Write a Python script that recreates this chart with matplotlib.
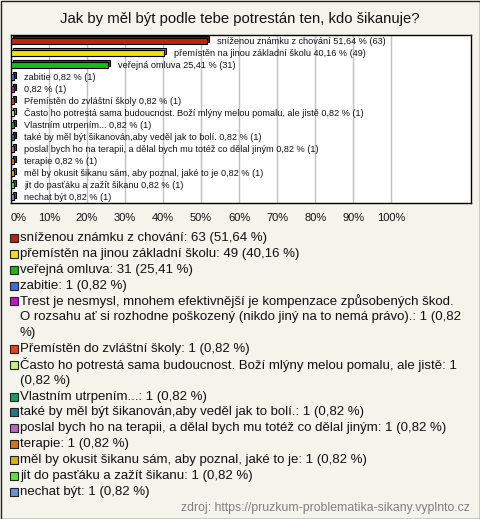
import matplotlib
matplotlib.use('Agg')
import numpy as np
import matplotlib.pyplot as plt
from matplotlib.patches import Rectangle
from matplotlib.colors import to_rgb

title = 'Jak by měl být podle tebe potrestán ten, kdo šikanuje?'
labels = [
    'sníženou známku z chování',
    'přemístěn na jinou základní školu',
    'veřejná omluva',
    'zabitie',
    'Trest je nesmysl, mnohem efektivnější je kompenzace způsobených škod. '
    'O rozsahu ať si rozhodne poškozený (nikdo jiný na to nemá právo).',
    'Přemístěn do zvláštní školy',
    'Často ho potrestá sama budoucnost. Boží mlýny melou pomalu, ale jistě',
    'Vlastním utrpením...',
    'také by měl být šikanován,aby veděl jak to bolí.',
    'poslal bych ho na terapii, a dělal bych mu totéž co dělal jiným',
    'terapie',
    'měl by okusit šikanu sám, aby poznal, jaké to je',
    'jít do pasťáku a zažít šikanu',
    'nechat být',
]
counts = [63, 49, 31] + [1] * 11
respondents = 122
colors = ['#c8200c', '#f2e200', '#12c012', '#3c6ee8', '#c412d2', '#e84412',
          '#c4f086', '#12a05e', '#1e7890', '#c060c8', '#e07012', '#e2b000',
          '#52e832', '#6494e4']
source = 'zdroj: https://pruzkum-problematika-sikany.vyplnto.cz'

pct = np.array(counts) / respondents * 100
W, H = 480, 519
bg = '#f4f3ec'


def fmt(v):
    return f'{v:.2f}'.replace('.', ',')


fig = plt.figure(figsize=(W / 100, H / 100), dpi=100, facecolor=bg)
fig.patches.append(Rectangle((0.5 / W, 0.5 / H), 1 - 1 / W, 1 - 1 / H, transform=fig.transFigure,
                             fill=False, edgecolor='#202020', lw=1))

fig.text(0.5, 1 - 19 / H, title, ha='center', va='center', fontsize=10.7,
         family='Liberation Sans', color='#111111')

# bar chart
ax = fig.add_axes([11 / W, 1 - 203 / H, 460 / W, 168 / H])
ax.set_facecolor('white')
y = np.arange(len(labels))
for i in range(len(labels)):
    dark = tuple(c * 0.6 for c in to_rgb(colors[i]))
    ax.barh(y[i] - 0.2, pct[i], left=0.5, height=0.5, color=dark, edgecolor='black', lw=0.8, zorder=2)
    ax.barh(y[i], pct[i], height=0.5, color=colors[i], edgecolor='black', lw=0.8, zorder=3)
    name = labels[i] if len(labels[i]) < 100 else ''
    txt = f'{name} {fmt(pct[i])} % ({counts[i]})'.strip()
    ax.annotate(txt, (pct[i], y[i]), xytext=(7.2, 0), textcoords='offset points',
                va='center', ha='left', fontsize=6.6, family='Liberation Sans', color='#111111', zorder=4)
ax.set_xlim(0, 121)
ax.set_ylim(len(labels) - 0.5, -0.5)
ax.set_yticks([])
ticks = list(range(0, 101, 10))
ax.set_xticks(ticks)
ax.set_xticklabels([f'{t}%' for t in ticks], fontsize=8, family='Liberation Sans', color='#111111')
ax.get_xticklabels()[0].set_horizontalalignment('left')
ax.tick_params(axis='x', length=0, pad=7)
ax.grid(axis='x', color='#c0c0c0', lw=1, zorder=0)
ax.set_axisbelow(True)
for s in ax.spines.values():
    s.set_color('black')
    s.set_linewidth(1)

# legend drawn as text, wrapped by measured width
renderer = fig.canvas.get_renderer()
leg_kw = dict(fontsize=9.5, family='Liberation Sans', color='#111111')


def wrap_px(text, maxw):
    words = text.split(' ')
    lines, cur = [], ''
    for w in words:
        trial = w if not cur else cur + ' ' + w
        t = fig.text(0, 0, trial, **leg_kw)
        width = t.get_window_extent(renderer).width
        t.remove()
        if width > maxw and cur:
            lines.append(cur)
            cur = w
        else:
            cur = trial
    lines.append(cur)
    return lines


line_y = 238
step = 15.85
for i in range(len(labels)):
    txt = f'{labels[i]}: {counts[i]} ({fmt(pct[i])} %)'
    lines = wrap_px(txt, 444)
    fig.patches.append(Rectangle((10 / W, 1 - (line_y + 4) / H), 8 / W, 8 / H, transform=fig.transFigure,
                                 facecolor=colors[i], edgecolor='#222222', lw=0.8))
    for ln in lines:
        fig.text(20 / W, 1 - line_y / H, ln, ha='left', va='center', **leg_kw)
        line_y += step

fig.text(470 / W, 1 - 508 / H, source, ha='right', va='center', fontsize=8.8,
         family='Liberation Sans', color='#808080')

fig.savefig('out.png', dpi=100, facecolor=bg)
